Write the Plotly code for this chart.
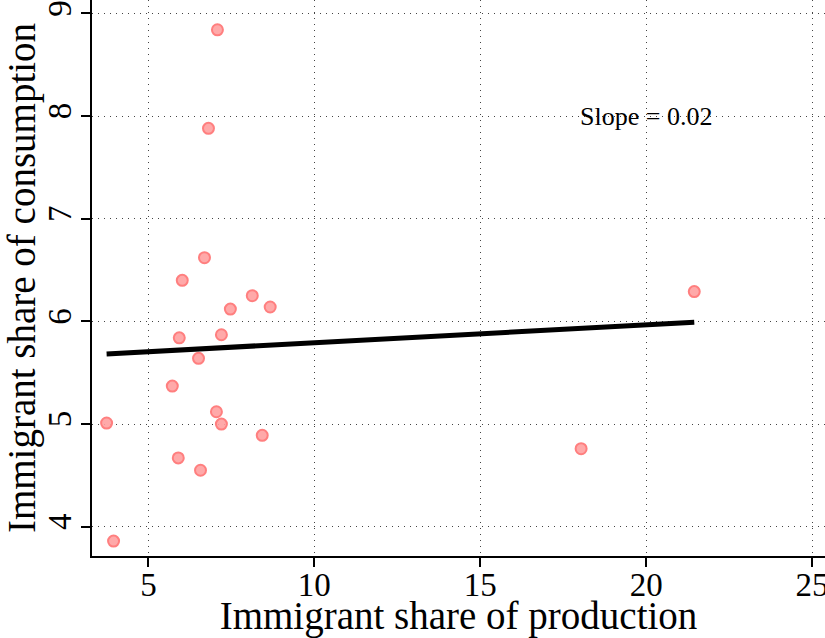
import numpy as np
import plotly.graph_objects as go

# Data
production = [3.74, 3.95, 7.08, 6.81, 6.69, 6.02, 8.13, 8.67, 7.47, 5.93,
              7.20, 6.51, 5.72, 7.05, 7.20, 8.43, 5.90, 6.57, 18.04, 21.45]
consumption = [5.01, 3.86, 8.84, 7.88, 6.62, 6.40, 6.25, 6.14, 6.12, 5.84,
               5.87, 5.64, 5.37, 5.12, 5.00, 4.89, 4.67, 4.55, 4.76, 6.29]
x_ticks = [5, 10, 15, 20, 25]
y_ticks = [4, 5, 6, 7, 8, 9]
slope_label = "Slope = 0.02"

x = np.array(production)
y = np.array(consumption)
b, a = np.polyfit(x, y, 1)
fit_x = np.array([x.min(), x.max()])
fit_y = a + b * fit_x

FONT = "Liberation Serif"

fig = go.Figure()
fig.add_trace(go.Scatter(
    x=production, y=consumption, mode="markers",
    marker=dict(size=11, color="rgba(255,160,160,0.9)",
                line=dict(color="#FF7F7F", width=2)),
    showlegend=False, hoverinfo="skip"))
fig.add_trace(go.Scatter(
    x=fit_x, y=fit_y, mode="lines",
    line=dict(color="black", width=5),
    showlegend=False, hoverinfo="skip"))

fig.add_annotation(x=20, y=8.0, text=slope_label, showarrow=False,
                   font=dict(family=FONT, size=26, color="black"),
                   xanchor="center", yanchor="middle")

axis_common = dict(
    showline=True, linecolor="black", linewidth=2,
    ticks="outside", ticklen=9, tickwidth=2, tickcolor="black",
    showgrid=True, gridcolor="#444444", griddash="1px,5px", gridwidth=1,
    zeroline=False, mirror=False, ticklabeloverflow="allow",
    tickfont=dict(family=FONT, size=33, color="black"),
)

fig.update_xaxes(range=[3.3, 25.39], tickvals=x_ticks, ticklabelstandoff=-11,
                 title=dict(text="Immigrant share of production",
                            font=dict(family=FONT, size=39, color="black"),
                            standoff=10),
                 **axis_common)
fig.update_yaxes(range=[3.715, 9.13], tickvals=y_ticks, tickangle=-90,
                 ticklabelstandoff=-3,
                 title=dict(text="Immigrant share of consumption",
                            font=dict(family=FONT, size=39, color="black"),
                            standoff=4),
                 **axis_common)

fig.update_layout(
    width=825, height=638,
    margin=dict(l=92, r=0, t=0, b=82, autoexpand=False),
    plot_bgcolor="white", paper_bgcolor="white",
)

fig.write_html("out.html")
